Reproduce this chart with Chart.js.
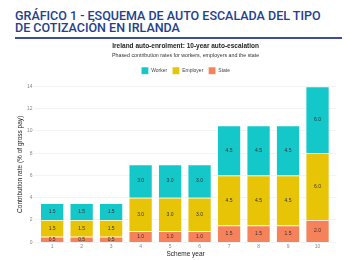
<!DOCTYPE html>
<html>
<head>
<meta charset="utf-8">
<script src="https://cdn.jsdelivr.net/npm/chart.js@4.4.1/dist/chart.umd.min.js"></script>
<style>
  html, body { margin: 0; padding: 0; background: #fff; }
  body { width: 350px; height: 260px; position: relative; overflow: hidden; }
  .heading {
    position: absolute; left: 15px; top: 9.5px; width: 340px; white-space: nowrap;
    font-family: Roboto, sans-serif; font-weight: 500; font-size: 12.5px;
    line-height: 12.2px; color: #23408e;
  }
  .rule {
    position: absolute; left: 15px; top: 37px; width: 327px; height: 1.5px;
    background: #3d4f94;
  }
  .chart-box { position: absolute; left: 0; top: 40px; width: 350px; height: 220px; }
</style>
</head>
<body>
<div class="heading">GRÁFICO 1 - ESQUEMA DE AUTO ESCALADA DEL TIPO<br>DE COTIZACIÓN EN IRLANDA</div>
<div class="rule"></div>
<div class="chart-box"><canvas id="chart"></canvas></div>
<script>
// Scheme years and contribution rates (% of gross pay)
const years = [1, 2, 3, 4, 5, 6, 7, 8, 9, 10];
const stateRates = [0.5, 0.5, 0.5, 1.0, 1.0, 1.0, 1.5, 1.5, 1.5, 2.0];
const employerRates = [1.5, 1.5, 1.5, 3.0, 3.0, 3.0, 4.5, 4.5, 4.5, 6.0];
const workerRates = [1.5, 1.5, 1.5, 3.0, 3.0, 3.0, 4.5, 4.5, 4.5, 6.0];
const yTicks = [0, 2, 4, 6, 8, 10, 12, 14];

const colors = {
  worker: '#14c7c9',
  employer: '#e8c406',
  state: '#f5825a'
};

const font = '"Liberation Sans", Arial, sans-serif';

const points = rates => years.map((yr, i) => ({ x: yr, y: rates[i] }));

// value labels centred in every segment
const segmentLabels = {
  id: 'segmentLabels',
  afterDatasetsDraw(chart) {
    const ctx = chart.ctx;
    ctx.save();
    ctx.font = '5px ' + font;
    ctx.fillStyle = '#333';
    ctx.textAlign = 'center';
    ctx.textBaseline = 'middle';
    chart.data.datasets.forEach((ds, i) => {
      chart.getDatasetMeta(i).data.forEach((bar, j) => {
        ctx.fillText(ds.data[j].y.toFixed(1), bar.x, (bar.y + bar.base) / 2);
      });
    });
    ctx.restore();
  }
};

// a little gap between legend and plot
const legendGap = {
  id: 'legendGap',
  beforeInit(chart) {
    Chart.layouts.addBox(chart, {
      position: 'top',
      weight: 500,
      fullSize: false,
      options: {},
      width: 0,
      height: 0,
      isHorizontal: () => true,
      update(maxWidth) { this.width = maxWidth; this.height = 2; },
      draw() {}
    });
  }
};

new Chart(document.getElementById('chart'), {
  type: 'bar',
  data: {
    datasets: [
      { label: 'State', data: points(stateRates), backgroundColor: colors.state },
      { label: 'Employer', data: points(employerRates), backgroundColor: colors.employer },
      { label: 'Worker', data: points(workerRates), backgroundColor: colors.worker }
    ].map(d => Object.assign(d, {
      borderColor: 'rgba(255,255,255,0.8)',
      borderWidth: 0.8,
      barPercentage: 0.9,
      categoryPercentage: 0.9
    }))
  },
  options: {
    responsive: true,
    maintainAspectRatio: false,
    animation: false,
    layout: { padding: { left: 16, right: 13.3, top: 0, bottom: 2 } },
    plugins: {
      title: {
        display: true,
        text: 'Ireland auto-enrolment: 10-year auto-escalation',
        fullSize: false,
        color: '#222',
        font: { family: font, size: 6.5, weight: 'bold', lineHeight: 1.2 },
        padding: { top: 2.6, bottom: 1 }
      },
      subtitle: {
        display: true,
        text: 'Phased contribution rates for workers, employers and the state',
        fullSize: false,
        color: '#333',
        font: { family: font, size: 5.3, lineHeight: 1.2 },
        padding: { top: 1.4, bottom: 2.8 }
      },
      legend: {
        reverse: true,
        fullSize: false,
        labels: {
          boxWidth: 7.5,
          boxHeight: 7.5,
          padding: 5,
          color: '#444',
          font: { family: font, size: 5 }
        }
      },
      tooltip: { enabled: false }
    },
    scales: {
      x: {
        type: 'linear',
        stacked: true,
        offset: false,
        min: 0.4,
        max: 10.65,
        afterBuildTicks: axis => { axis.ticks = years.map(v => ({ value: v })); },
        grid: { display: false, drawTicks: false },
        border: { display: false },
        ticks: { color: '#888', font: { family: font, size: 5 }, padding: 1 },
        title: {
          display: true, text: 'Scheme year', color: '#222',
          font: { family: font, size: 6.5 }, padding: { top: 0, bottom: 0 }
        }
      },
      y: {
        stacked: true,
        min: 0,
        max: 14,
        afterBuildTicks: axis => { axis.ticks = yTicks.map(v => ({ value: v })); },
        grid: { color: '#ebebeb', lineWidth: 0.6, drawTicks: false },
        border: { display: false },
        ticks: { color: '#888', font: { family: font, size: 5 }, padding: 2 },
        title: {
          display: true, text: 'Contribution rate (% of gross pay)', color: '#222',
          font: { family: font, size: 6.5 }, padding: { top: 0, bottom: 1.1 }
        }
      }
    }
  },
  plugins: [segmentLabels, legendGap]
});
</script>
</body>
</html>
